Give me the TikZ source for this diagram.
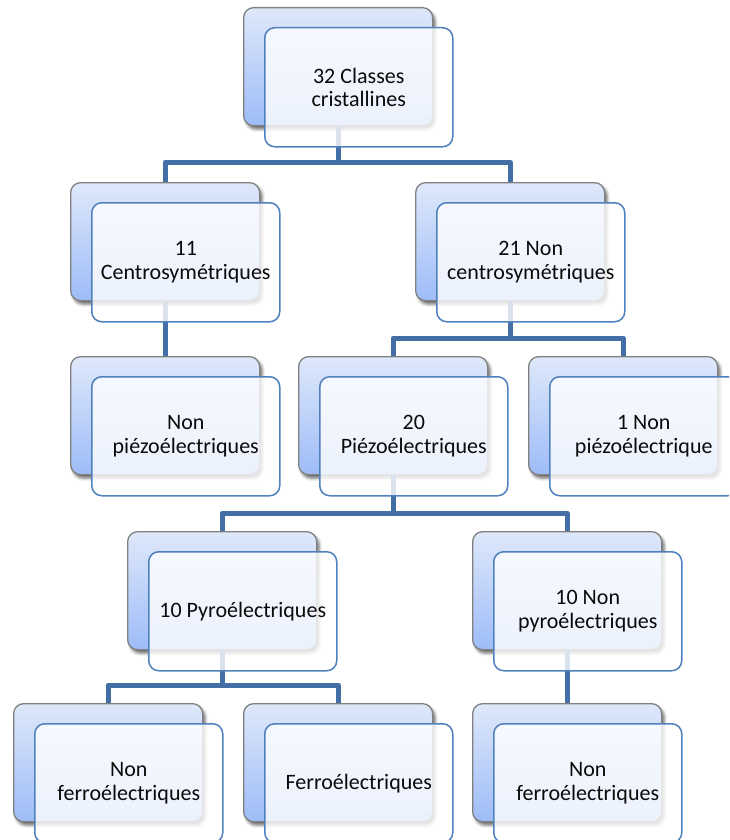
\documentclass[tikz,border=0pt]{standalone}
\usepackage{fontspec}
\setmainfont{Carlito}
\usetikzlibrary{shadows.blur,calc}

\definecolor{backtop}{RGB}{222,232,250}
\definecolor{backbot}{RGB}{158,188,248}
\definecolor{backline}{RGB}{128,128,128}
\definecolor{frontline}{RGB}{79,129,189}
\definecolor{linkblue}{RGB}{68,110,166}
\definecolor{txt}{RGB}{10,10,10}

\tikzset{
  backbox/.style={rectangle, rounded corners=10pt, anchor=north west,
    minimum width=189pt, minimum height=118pt, inner sep=0pt,
    draw=backline, line width=1.3pt, top color=backtop, bottom color=backbot,
    blur shadow={shadow xshift=2.5pt, shadow yshift=-3.5pt,
      shadow blur radius=3pt, shadow opacity=60}},
  frontbox/.style={rectangle, rounded corners=10pt, anchor=north west,
    minimum width=188pt, minimum height=119pt, inner sep=0pt,
    draw=frontline, line width=1.5pt, fill=white, fill opacity=0.8,
    text opacity=1, text=txt, align=center,
    font=\fontsize{22}{23.5}\selectfont},
  conn/.style={draw=linkblue, line width=5pt, line join=round}
}

\begin{document}
\begin{tikzpicture}[x=1pt,y=-1pt]
\useasboundingbox (0,0) rectangle (729,840);
\clip (0,0) rectangle (729,840);

% rows of the horizontal bars
\coordinate (r1) at (0,162);
\coordinate (r2) at (0,338);
\coordinate (r3) at (0,513);
\coordinate (r4) at (0,685);

% back shapes
\node[backbox] (Ab) at (243,7) {};
\node[backbox] (Bb) at (70,182) {};
\node[backbox] (Cb) at (415,182) {};
\node[backbox] (Db) at (70,356) {};
\node[backbox] (Eb) at (298,356) {};
\node[backbox] (Fb) at (528,356) {};
\node[backbox] (Gb) at (127,531) {};
\node[backbox] (Hb) at (472,531) {};
\node[backbox] (Ib) at (13,703) {};
\node[backbox] (Jb) at (243,703) {};
\node[backbox] (Kb) at (472,703) {};

% connectors
\draw[conn] (Ab.south) -- (Ab.south |- r1);
\draw[conn] (Bb.north) -- (Bb.north |- r1) -- (Cb.north |- r1) -- (Cb.north);
\draw[conn] (Bb.south) -- (Db.north);
\draw[conn] (Cb.south) -- (Cb.south |- r2);
\draw[conn] (Eb.north) -- (Eb.north |- r2) -- (Fb.north |- r2) -- (Fb.north);
\draw[conn] (Eb.south) -- (Eb.south |- r3);
\draw[conn] (Gb.north) -- (Gb.north |- r3) -- (Hb.north |- r3) -- (Hb.north);
\draw[conn] (Gb.south) -- (Gb.south |- r4);
\draw[conn] (Ib.north) -- (Ib.north |- r4) -- (Jb.north |- r4) -- (Jb.north);
\draw[conn] (Hb.south) -- (Kb.north);

% front shapes with the labels
\node[frontbox] (A) at (264,27) {32 Classes\\cristallines};
\node[frontbox] (B) at (91,202) {11\\Centrosymétriques};
\node[frontbox] (C) at (436,202) {21 Non\\centrosymétriques};
\node[frontbox] (D) at (91,376) {Non\\piézoélectriques};
\node[frontbox] (E) at (319,376) {20\\Piézoélectriques};
\node[frontbox] (F) at (549,376) {1 Non\\piézoélectrique};
\node[frontbox] (G) at (148,551) {10 Pyroélectriques};
\node[frontbox] (H) at (493,551) {10 Non\\pyroélectriques};
\node[frontbox] (I) at (34,723) {Non\\ferroélectriques};
\node[frontbox] (J) at (264,723) {Ferroélectriques};
\node[frontbox] (K) at (493,723) {Non\\ferroélectriques};
\end{tikzpicture}
\end{document}
